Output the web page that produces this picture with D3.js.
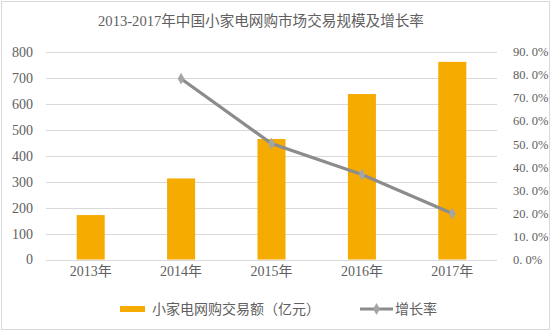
<!DOCTYPE html>
<html><head><meta charset="utf-8">
<script src="https://cdn.jsdelivr.net/npm/d3@7"></script>
<style>body{margin:0;background:#fff}svg{display:block}</style>
</head><body>
<script>
const categories = ["2013年","2014年","2015年","2016年","2017年"];
const volume = [171, 312, 464, 637, 761];
const growth = [null, 0.783, 0.502, 0.368, 0.199];
const leftTicks = [0,100,200,300,400,500,600,700,800];
const rightTicks = [0,0.1,0.2,0.3,0.4,0.5,0.6,0.7,0.8,0.9];
const title = "2013-2017年中国小家电网购市场交易规模及增长率";
const legendLabels = ["小家电网购交易额（亿元）","增长率"];

const W=554,H=333;
const font = "'Liberation Serif','Noto Sans CJK SC',serif";
const txt = "#606060";
const svg = d3.select("body").append("svg").attr("width",W).attr("height",H);
svg.append("rect").attr("x",1.5).attr("y",1.5).attr("width",548).attr("height",328)
  .attr("fill","#fff").attr("stroke","#d9d9d9");

const x = d3.scaleBand().domain(categories).range([45.5,497.5]).paddingInner(0.69).paddingOuter(0.345);
const y = d3.scaleLinear().domain([0,800]).range([259.5,51.7]);
const y2 = d3.scaleLinear().domain([0,0.9]).range([259.5,51.7]);

// gridlines
svg.append("g").selectAll("line").data(leftTicks).join("line")
  .attr("x1",46).attr("x2",497).attr("y1",d=>Math.round(y(d))+0.5).attr("y2",d=>Math.round(y(d))+0.5)
  .attr("stroke","#d9d9d9").attr("stroke-width",1);

// left axis
const la = svg.append("g").attr("transform","translate(46,0)")
  .call(d3.axisLeft(y).tickValues(leftTicks).tickSize(0).tickPadding(13));
la.select(".domain").remove();
la.selectAll("text").attr("font-family",font).attr("font-size",14).attr("fill",txt);

// right axis
const ra = svg.append("g").attr("transform","translate(497,0)")
  .call(d3.axisRight(y2).tickValues(rightTicks).tickSize(0).tickPadding(16).tickFormat(d=>d3.format(".1f")(d*100).replace(".",". ")+"%"));
ra.select(".domain").remove();
ra.selectAll("text").attr("font-family",font).attr("font-size",12.5).attr("fill",txt);

// x axis
const xa = svg.append("g").attr("transform","translate(0,259.5)")
  .call(d3.axisBottom(x).tickSize(0).tickPadding(7));
xa.select(".domain").remove();
xa.selectAll("text").attr("font-family",font).attr("font-size",14).attr("fill",txt);

// bars
const barColor = "#f5ab00";
svg.append("g").selectAll("rect").data(volume).join("rect")
  .attr("x",(d,i)=>x(categories[i])).attr("width",x.bandwidth())
  .attr("y",d=>y(d)).attr("height",d=>y(0)-y(d)).attr("fill",barColor);

// line
const pts = growth.map((g,i)=>({c:categories[i],g})).filter(d=>d.g!=null);
const lineColor = "#8c8c8c";
svg.append("path").datum(pts)
  .attr("d",d3.line().x(d=>x(d.c)+x.bandwidth()/2).y(d=>y2(d.g)))
  .attr("fill","none").attr("stroke",lineColor).attr("stroke-width",3.2).attr("stroke-linecap","round");
svg.append("g").selectAll("path").data(pts).join("path")
  .attr("d",d3.symbol(d3.symbolDiamond,40))
  .attr("transform",d=>`translate(${x(d.c)+x.bandwidth()/2},${y2(d.g)})`)
  .attr("fill","#a5a5a5");

// title
svg.append("text").attr("x",261).attr("y",26).attr("text-anchor","middle")
  .attr("font-family",font).attr("font-size",14.6).attr("fill",txt).text(title);

// legend
const ly = 309;
svg.append("rect").attr("x",120).attr("y",ly-3).attr("width",25).attr("height",6).attr("fill",barColor);
svg.append("text").attr("x",152).attr("y",ly+5).attr("font-family",font).attr("font-size",14).attr("fill",txt).text(legendLabels[0]);
svg.append("line").attr("x1",360).attr("x2",393).attr("y1",ly).attr("y2",ly).attr("stroke",lineColor).attr("stroke-width",3);
svg.append("path").attr("d",d3.symbol(d3.symbolDiamond,40)).attr("transform",`translate(376.5,${ly})`).attr("fill","#a5a5a5");
svg.append("text").attr("x",395).attr("y",ly+5).attr("font-family",font).attr("font-size",14).attr("fill",txt).text(legendLabels[1]);
</script>
</body></html>
